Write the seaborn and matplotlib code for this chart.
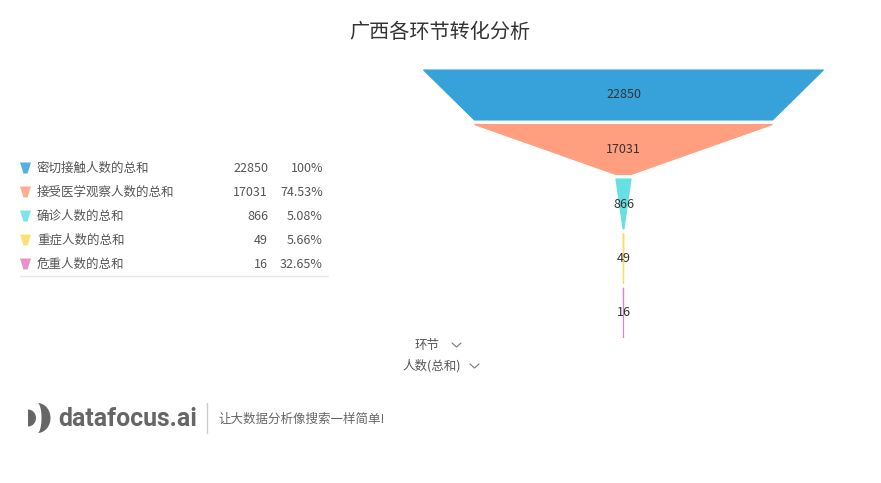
import numpy as np
import matplotlib.pyplot as plt
import matplotlib.patches as mpatches
import seaborn as sns

# data
stages = ['密切接触人数的总和', '接受医学观察人数的总和', '确诊人数的总和', '重症人数的总和', '危重人数的总和']
values = [22850, 17031, 866, 49, 16]
colors = ['#37a2da', '#ff9f7f', '#67e0e3', '#ffdb5c', '#e57fbf']
title = '广西各环节转化分析'
slogan = '让大数据分析像搜索一样简单!'

sns.set_theme(style='white')
plt.rcParams['font.family'] = ['Noto Sans CJK SC', 'DejaVu Sans']

W, H = 881, 483
fig = plt.figure(figsize=(W / 100, H / 100), dpi=100)
ax = fig.add_axes([0, 0, 1, 1])
ax.set_xlim(0, W)
ax.set_ylim(H, 0)
ax.axis('off')

ax.text(440, 32, title, ha='center', va='center', fontsize=14.5, color='#333333')

# funnel
cx, top, seg_h, gap, max_w = 623.5, 70, 50, 4.5, 400
scale = max_w / max(values)
for i, v in enumerate(values):
    nxt = values[i + 1] if i + 1 < len(values) else 0
    w1, w2 = v * scale, nxt * scale
    y0 = top + i * (seg_h + gap)
    y1 = y0 + seg_h
    xs = [cx - w1 / 2, cx + w1 / 2, cx + w2 / 2, cx - w2 / 2]
    ys = [y0, y0, y1, y1]
    ax.fill(xs, ys, color=colors[i], lw=0.8, ec=colors[i])
    ax.text(cx, (y0 + y1) / 2, str(v), ha='center', va='center', fontsize=9, color='#333333')

# legend table
def pct(a, b):
    p = a / b * 100
    return '100%' if round(p, 2) == 100 else f'{p:.2f}%'

for i, (s, v) in enumerate(zip(stages, values)):
    y = 168 + i * 24
    tri = mpatches.Polygon([[20, y - 5.5], [31, y - 5.5], [27.5, y + 5.5], [23.5, y + 5.5]],
                           closed=True, color=colors[i], alpha=0.85, lw=0)
    ax.add_patch(tri)
    ax.text(37, y, s, ha='left', va='center', fontsize=9, color='#555555')
    ax.text(268, y, str(v), ha='right', va='center', fontsize=9, color='#555555')
    p = pct(v, values[i - 1]) if i > 0 else '100%'
    ax.text(323, y, p, ha='right', va='center', fontsize=9, color='#555555')
ax.plot([20, 328], [276, 276], color='#e8e8e8', lw=1)

# axis selectors
ax.text(440, 345, '环节', ha='right', va='center', fontsize=9, color='#555555')
ax.plot([452, 456.5, 461], [343, 347, 343], color='#777777', lw=0.8)
ax.text(461, 366, '人数(总和)', ha='right', va='center', fontsize=9, color='#555555')
ax.plot([470, 474.5, 479], [364, 368, 364], color='#777777', lw=0.8)

# logo
t = np.linspace(-np.pi / 2, np.pi / 2, 40)
ax.fill(28 + 8 * np.cos(t), 418 + 8.5 * np.sin(t), color='#666666', lw=0)
ax.fill(np.r_[37.5 + 13 * np.cos(t), (37.5 + 4 * np.cos(t))[::-1]],
        np.r_[418 + 15 * np.sin(t), (418 + 15 * np.sin(t))[::-1]], color='#666666', lw=0)
logo = ax.text(58, 419, 'datafocus.ai', ha='left', va='center', fontsize=19, fontweight='bold',
               color='#666666', family=['Roboto', 'DejaVu Sans'])
fig.canvas.draw()
bb = logo.get_window_extent()
logo.set_fontsize(19 * 139 / bb.width)
ax.plot([207, 207], [403, 433], color='#cccccc', lw=1)
ax.text(218, 419, slogan, ha='left', va='center', fontsize=9, color='#666666')

fig.savefig('out.png', dpi=100)
